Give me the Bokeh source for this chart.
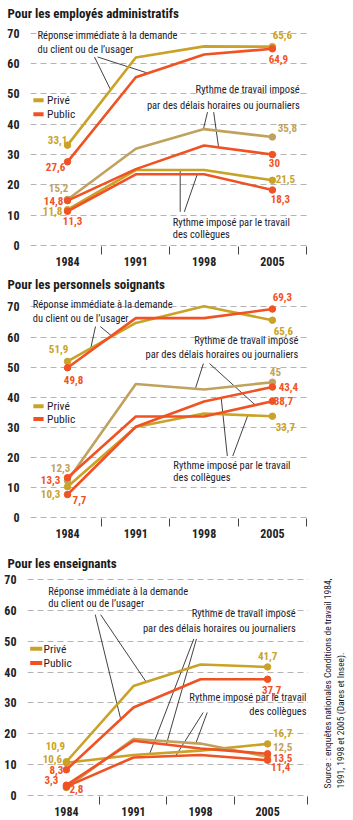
import math
from bokeh.plotting import figure
from bokeh.layouts import column, row
from bokeh.models import Range1d, FixedTicker, ColumnDataSource
from bokeh.core.properties import value
from bokeh.embed import file_html
from bokeh.resources import INLINE

# ---------------- data ----------------
years = ["1984", "1991", "1998", "2005"]
y_ticks = [0, 10, 20, 30, 40, 50, 60, 70]
legend_labels = ["Privé", "Public"]
titles = ["Pour les employés administratifs",
          "Pour les personnels soignants",
          "Pour les enseignants"]

# employés administratifs
admin_reponse_prive = [33.1, 62.0, 65.7, 65.6]
admin_reponse_public = [27.6, 55.5, 63.0, 64.9]
admin_delais_prive = [15.2, 31.9, 38.4, 35.8]
admin_delais_public = [14.8, 25.2, 33.0, 30.0]
admin_collegues_prive = [11.8, 24.9, 24.9, 21.5]
admin_collegues_public = [11.3, 23.5, 23.5, 18.3]

# personnels soignants
soin_reponse_prive = [51.9, 64.7, 70.2, 65.6]
soin_reponse_public = [49.8, 66.3, 66.3, 69.3]
soin_delais_prive = [12.3, 44.4, 42.6, 45.0]
soin_delais_public = [13.3, 33.6, 33.6, 38.7]
soin_collegues_prive = [10.3, 30.1, 34.6, 33.7]
soin_collegues_public = [7.7, 30.2, 38.6, 43.4]

# enseignants
ens_reponse_prive = [10.9, 35.5, 42.5, 41.7]
ens_reponse_public = [8.3, 28.5, 37.7, 37.7]
ens_delais_prive = [10.6, 13.1, 14.5, 16.7]
ens_delais_public = [3.3, 17.7, 15.2, 13.5]
ens_collegues_prive = [2.5, 18.3, 16.8, 12.5]
ens_collegues_public = [2.8, 12.3, 13.1, 11.4]

ann_reponse = ["Réponse immédiate à la demande", "du client ou de l’usager"]
ann_delais = ["Rythme de travail imposé", "par des délais horaires ou journaliers"]
ann_collegues = ["Rythme imposé par le travail", "des collègues"]
source_lines = ["Source : enquêtes nationales Conditions de travail 1984,",
                "1991, 1998 et 2005 (Dares et Insee)."]

# ---------------- style ----------------
FONT = "'Liberation Sans Narrow', 'Roboto Condensed', 'DejaVu Sans Condensed', 'Arial Narrow', sans-serif"
GOLD = "#C9A227"
TAN = "#C0A25E"
RED = "#F05223"
INK = "#1c1c30"
AXIS_INK = "#222222"
XPOS = list(range(len(years)))


def fmt(v):
    return ("%g" % v).replace(".", ",")


def make_panel(title, series, geom, texts, leaders, legend_pos, width=353):
    p = figure(width=width, height=geom["height"], output_backend="svg",
               toolbar_location=None,
               x_range=Range1d(*geom["xr"]), y_range=Range1d(*geom["yr"]),
               min_border_left=geom["left"], min_border_right=geom["right"],
               min_border_top=geom["top"], min_border_bottom=geom["bottom"])
    p.outline_line_color = None
    p.background_fill_color = "white"
    p.border_fill_color = "white"

    p.title.text = title
    p.title.text_font = FONT
    p.title.text_font_size = "13px"
    p.title.text_font_style = "bold"
    p.title.text_color = "#1a1a1a"
    p.title.align = "left"
    p.title.offset = 7 - geom["left"]
    p.title.standoff = 1

    p.xgrid.visible = False
    p.ygrid.grid_line_color = "#b3b3b3"
    p.ygrid.grid_line_dash = "6 4"
    p.ygrid.grid_line_width = 1
    p.yaxis.ticker = FixedTicker(ticks=y_ticks)
    p.yaxis.axis_line_color = None
    p.yaxis.major_tick_line_color = None
    p.yaxis.minor_tick_line_color = None
    p.yaxis.major_label_standoff = 5
    p.yaxis.major_label_text_font = FONT
    p.yaxis.major_label_text_font_style = "bold"
    p.yaxis.major_label_text_font_size = "12px"
    p.yaxis.major_label_text_color = AXIS_INK

    p.xaxis.ticker = FixedTicker(ticks=XPOS, minor_ticks=geom["minor"])
    p.xaxis.major_label_overrides = {i: y for i, y in zip(XPOS, years)}
    p.xaxis.axis_line_color = None
    p.xaxis.major_tick_line_color = None
    p.xaxis.major_tick_out = 0
    p.xaxis.minor_tick_in = 0
    p.xaxis.minor_tick_out = 8
    p.xaxis.minor_tick_line_color = "#444444"
    p.xaxis.major_label_standoff = 2
    p.xaxis.major_label_text_font = FONT
    p.xaxis.major_label_text_font_style = "bold"
    p.xaxis.major_label_text_font_size = "12px"
    p.xaxis.major_label_text_color = AXIS_INK

    # leader lines
    for (x0, y0, x1, y1) in leaders:
        p.segment(x0=[x0], y0=[y0], x1=[x1], y1=[y1], line_color="#111111", line_width=0.8)

    # series
    for vals, color, off0, off3 in series:
        p.line(XPOS, vals, line_color=color, line_width=2.6)
        p.scatter([XPOS[0], XPOS[-1]], [vals[0], vals[-1]], size=6.5, color=color)
        xs, ys, tx, dx, dy = [], [], [], [], []
        for idx, off in ((0, off0), (len(vals) - 1, off3)):
            if off is None:
                continue
            xs.append(XPOS[idx]); ys.append(vals[idx]); tx.append(fmt(vals[idx]))
            dx.append(off[0]); dy.append(off[1])
        src = ColumnDataSource(dict(x=xs, y=ys, t=tx, dx=dx, dy=dy))
        p.text(x="x", y="y", text="t", x_offset="dx", y_offset="dy", source=src,
               text_color=color, text_font=value(FONT), text_font_style="bold",
               text_font_size="11px", text_align="center", text_baseline="middle")

    # annotation texts
    for (x, y, t, align) in texts:
        p.text(x=[x], y=[y], text=[t], text_color=INK, text_font=value(FONT),
               text_font_size="10.5px", text_align=align, text_baseline="middle")

    # legend
    sx0, sx1, tx0, ys = legend_pos
    for lab, col, yy in zip(legend_labels, [GOLD, RED], ys):
        p.segment(x0=[sx0], y0=[yy], x1=[sx1], y1=[yy], line_color=col, line_width=4)
        p.text(x=[tx0], y=[yy], text=[lab], text_color=INK, text_font=value(FONT),
               text_font_size="11.5px", text_align="left", text_baseline="middle")
    return p


# ---------- panel 1 ----------
g1 = dict(height=268, left=30, right=43, top=21, bottom=19,
          xr=(-0.542, 3.558), yr=(-0.33, 73.9), minor=[0.5, 1.5, 2.5, 3.5])
s1 = [
    (admin_reponse_prive, GOLD, (-10, -5), (10, -12)),
    (admin_delais_prive, TAN, (-9, -11), (15, -9)),
    (admin_collegues_prive, GOLD, (-15, 1.5), (13, -1)),
    (admin_reponse_public, RED, (-12, 5), (6, 10)),
    (admin_delais_public, RED, (-14, 0), (2, 8)),
    (admin_collegues_public, RED, (5, 10), (8, 9)),
]
t1 = [(-0.44, 69.4, ann_reponse[0], "left"), (-0.44, 64.8, ann_reponse[1], "left"),
      (3.40, 51.5, ann_delais[0], "right"), (3.40, 46.3, ann_delais[1], "right"),
      (1.54, 7.5, ann_collegues[0], "left"), (1.54, 3.6, ann_collegues[1], "left")]
l1 = [(0.395, 62.2, 0.63, 51.4), (0.44, 62.2, 1.157, 57.0),
      (2.05, 44.0, 1.99, 38.4), (2.14, 44.0, 2.21, 32.7),
      (1.65, 11.1, 1.65, 24.9), (1.71, 11.1, 1.90, 23.5)]
p1 = make_panel(titles[0], s1, g1, t1, l1, (-0.50, -0.35, -0.30, [47.9, 43.3]))

# ---------- panel 2 ----------
g2 = dict(height=272, left=30, right=43, top=24, bottom=16,
          xr=(-0.542, 3.558), yr=(-0.26, 74.8), minor=[0.5, 1.5, 2.5, 3.5])
s2 = [
    (soin_reponse_prive, GOLD, (-9, -12), (11, 11)),
    (soin_delais_prive, TAN, (-7, -13), (3, -10)),
    (soin_collegues_prive, GOLD, (-17, 7.6), (13, 11)),
    (soin_reponse_public, RED, (6, 12), (10, -12)),
    (soin_delais_public, RED, (-17, 2), (11, 0)),
    (soin_collegues_public, RED, (12, 5), (16, 0)),
]
t2 = [(-0.51, 70.8, ann_reponse[0], "left"), (-0.51, 66.0, ann_reponse[1], "left"),
      (3.38, 59.0, ann_delais[0], "right"), (3.38, 54.1, ann_delais[1], "right"),
      (1.55, 17.4, ann_collegues[0], "left"), (1.55, 13.4, ann_collegues[1], "left")]
l2 = [(0.41, 63.5, 0.34, 56.25), (0.48, 63.5, 0.644, 60.4),
      (1.99, 51.2, 1.87, 42.73), (2.08, 51.2, 2.75, 37.4),
      (2.34, 20.5, 2.25, 39.8), (2.42, 20.5, 2.64, 34.0)]
p2 = make_panel(titles[1], s2, g2, t2, l2, (-0.50, -0.35, -0.30, [37.0, 32.8]))

# ---------- panel 3 ----------
g3 = dict(height=280, left=27, right=0, top=31, bottom=24,
          xr=(-0.58, 3.61), yr=(-0.39, 72.7), minor=[0.5, 1.5, 2.5, 3.6])
s3 = [
    (ens_reponse_prive, GOLD, (-11, -16), (0, -11)),
    (ens_delais_prive, GOLD, (-14, -4), (15, -11)),
    (ens_collegues_prive, TAN, None, (15, -10)),
    (ens_reponse_public, RED, (-10, 0), (4, 11)),
    (ens_delais_public, RED, (-15, -5.6), (15, 4)),
    (ens_collegues_public, RED, (10, 2), (13, 7)),
]
t3 = [(-0.27, 66.3, ann_reponse[0], "left"), (-0.27, 62.2, ann_reponse[1], "left"),
      (3.42, 58.9, ann_delais[0], "right"), (3.42, 54.3, ann_delais[1], "right"),
      (3.58, 31.85, ann_collegues[0], "right"), (3.58, 27.2, ann_collegues[1], "right")]
l3 = [(0.43, 58.7, 0.81, 24.7), (0.51, 58.7, 1.19, 36.8),
      (1.90, 50.8, 1.24, 13.4), (1.94, 50.8, 1.49, 16.5),
      (2.04, 26.9, 1.63, 12.8), (2.10, 26.9, 1.93, 16.9)]
p3 = make_panel(titles[2], s3, g3, t3, l3, (-0.54, -0.36, -0.34, [47.6, 43.0]), width=308)

# source note, vertical, in a narrow side figure
ps = figure(width=45, height=280, output_backend="svg", toolbar_location=None,
            x_range=Range1d(0, 45), y_range=Range1d(0, 280), min_border=0)
ps.axis.visible = False
ps.grid.visible = False
ps.outline_line_color = None
ps.text(x=[19, 32], y=[10, 10], text=source_lines, angle=math.pi / 2,
        text_align="left", text_baseline="middle", text_font=value(FONT),
        text_font_size="9.5px", text_color=INK)

layout = column(p1, p2, row(p3, ps, spacing=0), spacing=0)
open("out.html", "w").write(file_html(layout, INLINE))
